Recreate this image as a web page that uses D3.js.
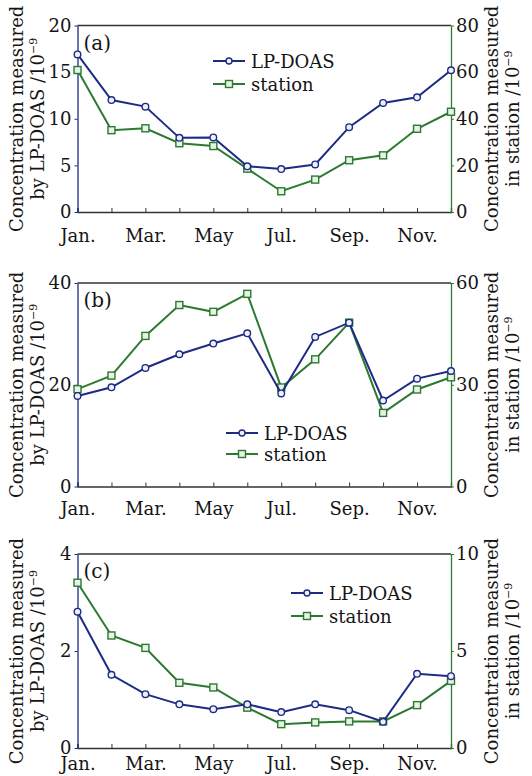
<!DOCTYPE html>
<html>
<head>
<meta charset="utf-8">
<script src="https://cdn.jsdelivr.net/npm/d3@7"></script>
<style>
  body { margin: 0; background: #fff; }
  text { font-family: "DejaVu Serif", serif; fill: #151515; }
</style>
</head>
<body>
<svg id="chart" width="532" height="776"></svg>
<script>
// month categories and tick labels
var months = ["Jan.", "Feb.", "Mar.", "Apr.", "May", "Jun.", "Jul.", "Aug.", "Sep.", "Oct.", "Nov.", "Dec."];
var monthLabels = ["Jan.", "Mar.", "May", "Jul.", "Sep.", "Nov."];

// panel (a)
var lpA = [16.9, 12.0, 11.3, 7.95, 8.0, 4.9, 4.6, 5.1, 9.1, 11.7, 12.3, 15.2];
var stA = [60.9, 35.1, 35.9, 29.5, 28.3, 18.6, 8.9, 13.9, 22.2, 24.3, 35.7, 43.0];
var leftTicksA = [0, 5, 10, 15, 20];
var rightTicksA = [0, 20, 40, 60, 80];

// panel (b)
var lpB = [17.8, 19.5, 23.3, 26.0, 28.1, 30.1, 18.3, 29.4, 32.2, 16.9, 21.2, 22.7];
var stB = [28.7, 32.7, 44.4, 53.5, 51.5, 56.8, 29.2, 37.5, 48.3, 21.7, 28.6, 32.2];
var leftTicksB = [0, 20, 40];
var rightTicksB = [0, 30, 60];

// panel (c)
var lpC = [2.81, 1.51, 1.11, 0.90, 0.80, 0.90, 0.74, 0.90, 0.78, 0.54, 1.53, 1.48];
var stC = [8.52, 5.80, 5.16, 3.36, 3.12, 2.08, 1.23, 1.32, 1.37, 1.37, 2.21, 3.46];
var leftTicksC = [0, 2, 4];
var rightTicksC = [0, 5, 10];

var blue = "#1d2b85", green = "#2b7a30", frame = "#333";
var fs = "18px";
var svg = d3.select("#chart");
var left = 77.5, right = 451;

function styleText(sel) {
  sel.style("font-size", fs).style("font-family", "DejaVu Serif").attr("fill", "#151515");
}

function panel(opt) {
  var g = svg.append("g");
  var x = d3.scalePoint().domain(months).range([left, right]);
  var yL = d3.scaleLinear().domain([0, opt.leftTicks[opt.leftTicks.length - 1]]).range([opt.bottom, opt.top]);
  var yR = d3.scaleLinear().domain([0, opt.rightTicks[opt.rightTicks.length - 1]]).range([opt.bottom, opt.top]);

  // frame
  g.append("line").attr("x1", left).attr("x2", right).attr("y1", opt.top).attr("y2", opt.top)
    .attr("stroke", frame).attr("stroke-width", 1.3);

  // bottom axis, ticks pointing inward
  var xAxis = g.append("g").attr("transform", "translate(0," + opt.bottom + ")")
    .call(d3.axisBottom(x).tickSize(-4).tickFormat(function (d) { return monthLabels.indexOf(d) >= 0 ? d : ""; }).tickPadding(opt.xPad));
  xAxis.select(".domain").attr("stroke", frame).attr("stroke-width", 1.3);
  xAxis.selectAll(".tick line").attr("stroke", frame);
  styleText(xAxis.selectAll("text"));

  // left axis
  var la = g.append("g").attr("transform", "translate(" + left + ",0)")
    .call(d3.axisLeft(yL).tickValues(opt.leftTicks).tickFormat(d3.format("d")).tickSize(3).tickPadding(3).tickSizeOuter(0));
  la.select(".domain").attr("stroke", blue).attr("stroke-width", 1.3);
  la.selectAll(".tick line").attr("stroke", blue);
  styleText(la.selectAll("text"));

  // right axis
  var ra = g.append("g").attr("transform", "translate(" + right + ",0)")
    .call(d3.axisRight(yR).tickValues(opt.rightTicks).tickFormat(d3.format("d")).tickSize(3).tickPadding(2).tickSizeOuter(0));
  ra.select(".domain").attr("stroke", green).attr("stroke-width", 1.3);
  ra.selectAll(".tick line").attr("stroke", green);
  styleText(ra.selectAll("text"));

  // station line (green squares)
  var lineR = d3.line().x(function (d, i) { return x(months[i]); }).y(function (d) { return yR(d); });
  g.append("path").datum(opt.st).attr("d", lineR).attr("fill", "none")
    .attr("stroke", green).attr("stroke-width", 2);
  g.selectAll(".sq").data(opt.st).enter().append("rect")
    .attr("x", function (d, i) { return x(months[i]) - 3.5; })
    .attr("y", function (d) { return yR(d) - 3.5; })
    .attr("width", 7).attr("height", 7)
    .attr("fill", "#e8f2e6").attr("stroke", green).attr("stroke-width", 1.4);

  // LP-DOAS line (blue circles)
  var lineL = d3.line().x(function (d, i) { return x(months[i]); }).y(function (d) { return yL(d); });
  g.append("path").datum(opt.lp).attr("d", lineL).attr("fill", "none")
    .attr("stroke", blue).attr("stroke-width", 2);
  g.selectAll(".ci").data(opt.lp).enter().append("circle")
    .attr("cx", function (d, i) { return x(months[i]); })
    .attr("cy", function (d) { return yL(d); })
    .attr("r", 3.3)
    .attr("fill", "#eef0fa").attr("stroke", blue).attr("stroke-width", 1.4);

  // panel letter
  g.append("text").attr("x", left + 6).attr("y", opt.top + 24).style("font-size", "20px").text(opt.tag);

  // legend
  var lg = g.append("g").attr("transform", "translate(" + opt.legX + "," + opt.legY + ")");
  lg.append("line").attr("x1", 0).attr("x2", 32).attr("y1", 0).attr("y2", 0).attr("stroke", blue).attr("stroke-width", 2);
  lg.append("circle").attr("cx", 16).attr("cy", 0).attr("r", 3).attr("fill", "#eef0fa").attr("stroke", blue).attr("stroke-width", 1.4);
  lg.append("text").attr("x", 38).attr("y", 6.5).style("font-size", fs).text("LP-DOAS");
  lg.append("line").attr("x1", 0).attr("x2", 32).attr("y1", opt.legGap).attr("y2", opt.legGap).attr("stroke", green).attr("stroke-width", 2);
  lg.append("rect").attr("x", 12.5).attr("y", opt.legGap - 3.5).attr("width", 7).attr("height", 7)
    .attr("fill", "#e8f2e6").attr("stroke", green).attr("stroke-width", 1.4);
  lg.append("text").attr("x", 38).attr("y", opt.legGap + 6.5).style("font-size", fs).text("station");

  // axis titles
  var mid = (opt.top + opt.bottom) / 2;
  var t1 = g.append("text").attr("transform", "translate(23," + mid + ") rotate(-90)")
    .attr("text-anchor", "middle").style("font-size", fs);
  t1.append("tspan").attr("x", 0).attr("dy", 0).text("Concentration measured");
  t1.append("tspan").attr("x", 0).attr("dy", 21).text("by LP-DOAS /10");
  t1.append("tspan").attr("dy", -7).style("font-size", "11px").text("\u22129");

  var t2 = g.append("text").attr("transform", "translate(498," + mid + ") rotate(-90)")
    .attr("text-anchor", "middle").style("font-size", fs);
  t2.append("tspan").attr("x", 0).attr("dy", 0).text("Concentration measured");
  t2.append("tspan").attr("x", 0).attr("dy", 21).text("in station /10");
  t2.append("tspan").attr("dy", -7).style("font-size", "11px").text("\u22129");
}

panel({ top: 25.5, bottom: 212, lp: lpA, st: stA, leftTicks: leftTicksA, rightTicks: rightTicksA,
  tag: "(a)", legX: 213, legY: 61, legGap: 23, xPad: 17 });
panel({ top: 283, bottom: 486.5, lp: lpB, st: stB, leftTicks: leftTicksB, rightTicks: rightTicksB,
  tag: "(b)", legX: 226, legY: 433, legGap: 21, xPad: 16 });
panel({ top: 554, bottom: 748, lp: lpC, st: stC, leftTicks: leftTicksC, rightTicks: rightTicksC,
  tag: "(c)", legX: 291, legY: 593, legGap: 23, xPad: 9 });
</script>
</body>
</html>
